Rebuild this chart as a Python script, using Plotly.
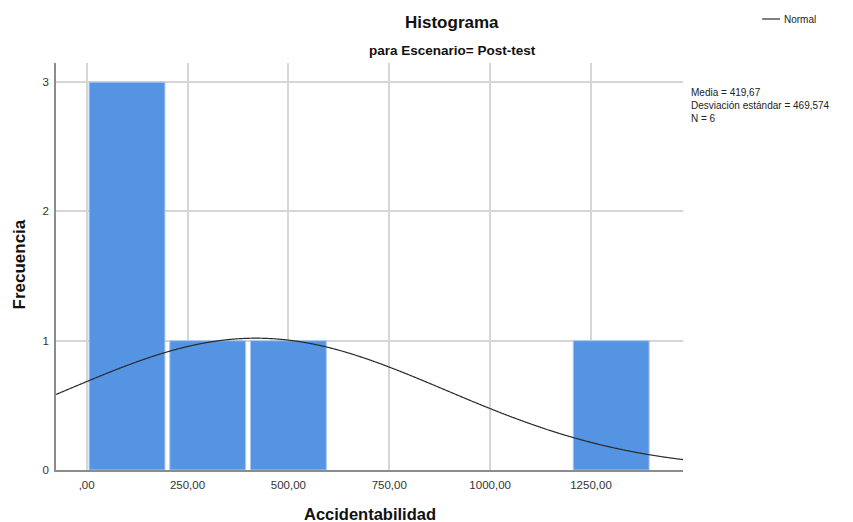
import numpy as np
import plotly.graph_objects as go

# Histogram bins (left edge of each bin) and frequencies
bin_width = 200
bin_starts = [0, 200, 400, 1200]
frequencies = [3, 1, 1, 1]

# Descriptive statistics for the normal curve
media = 419.67
desv = 469.574
n = 6

x_tickvals = [0, 250, 500, 750, 1000, 1250]
x_ticktext = [",00", "250,00", "500,00", "750,00", "1000,00", "1250,00"]
y_tickvals = [0, 1, 2, 3]

x_range = [-76, 1478]
y_range = [0, 3.148]

FONT = "Liberation Sans, Arial, sans-serif"
BAR_COLOR = "#5594E3"

bin_centers = [s + bin_width / 2 for s in bin_starts]

# Normal curve scaled to counts: N * bin width * pdf
xc = np.linspace(x_range[0], x_range[1], 600)
yc = n * bin_width * np.exp(-0.5 * ((xc - media) / desv) ** 2) / (desv * np.sqrt(2 * np.pi))

fig = go.Figure()
fig.add_trace(go.Bar(
    x=bin_centers, y=frequencies,
    marker=dict(color=BAR_COLOR, line=dict(color="#A9C8F0", width=1)),
    showlegend=False, hoverinfo="x+y",
))
fig.add_trace(go.Scatter(
    x=xc, y=yc, mode="lines", line_shape="spline",
    line=dict(color="#2a2a2a", width=1.2),
    name="Normal", showlegend=False,
))

W, H = 853, 522
pl, pr, pt, pb = 56, 170, 63, 52
pw, ph = W - pl - pr, H - pt - pb

fig.update_layout(
    width=W, height=H,
    margin=dict(l=pl, r=pr, t=pt, b=pb, autoexpand=False),
    paper_bgcolor="white", plot_bgcolor="white",
    bargap=0.06,
    font=dict(family=FONT, color="#222222", size=11),
    showlegend=False,
)

fig.update_xaxes(
    range=x_range, tickvals=x_tickvals, ticktext=x_ticktext,
    showgrid=True, gridcolor="#d6d6d6", gridwidth=2,
    showline=True, linecolor="#8c8c8c", linewidth=1.5,
    ticks="", ticklabelstandoff=3, zeroline=False, automargin=False,
    tickfont=dict(size=11.5, color="#333333"),
)
fig.update_yaxes(
    range=y_range, tickvals=y_tickvals,
    showgrid=True, gridcolor="#d6d6d6", gridwidth=2,
    showline=True, linecolor="#8c8c8c", linewidth=1.5,
    ticks="", ticklabelstandoff=3, zeroline=False, automargin=False,
    tickfont=dict(size=11.5, color="#333333"),
)


def px(x):
    return (x - pl) / pw


def py(y):
    return (H - pb - y) / ph


annotations = [
    dict(text="<b>Histograma</b>", x=px(452), y=py(22), xref="paper", yref="paper",
         xanchor="center", yanchor="middle", showarrow=False,
         font=dict(size=17, color="#111111")),
    dict(text="<b>para Escenario= Post-test</b>", x=px(452), y=py(51), xref="paper", yref="paper",
         xanchor="center", yanchor="middle", showarrow=False,
         font=dict(size=13.5, color="#111111")),
    dict(text="<b>Accidentabilidad</b>", x=px(370), y=py(514), xref="paper", yref="paper",
         xanchor="center", yanchor="middle", showarrow=False,
         font=dict(size=16.5, color="#111111")),
    dict(text="<b>Frecuencia</b>", x=px(18.5), y=py(265), xref="paper", yref="paper",
         xanchor="center", yanchor="middle", showarrow=False, textangle=-90,
         font=dict(size=17, color="#111111")),
    dict(text="Normal", x=px(782), y=py(19), xref="paper", yref="paper",
         xanchor="left", yanchor="middle", showarrow=False,
         font=dict(size=10, color="#222222")),
    dict(text=f"Media = {media:.2f}".replace(".", ",")
              + f"<br>Desviación estándar = {desv:.3f}".replace(".", ",")
              + f"<br>N = {n}",
         x=px(689), y=py(85), xref="paper", yref="paper",
         xanchor="left", yanchor="top", align="left", showarrow=False,
         font=dict(size=10, color="#222222")),
]
fig.update_layout(annotations=annotations)

# Legend line sample for the normal curve
fig.add_shape(type="line", xref="paper", yref="paper",
              x0=px(762), x1=px(780), y0=py(19), y1=py(19),
              line=dict(color="#2a2a2a", width=1.2))

fig.write_html("out.html")
